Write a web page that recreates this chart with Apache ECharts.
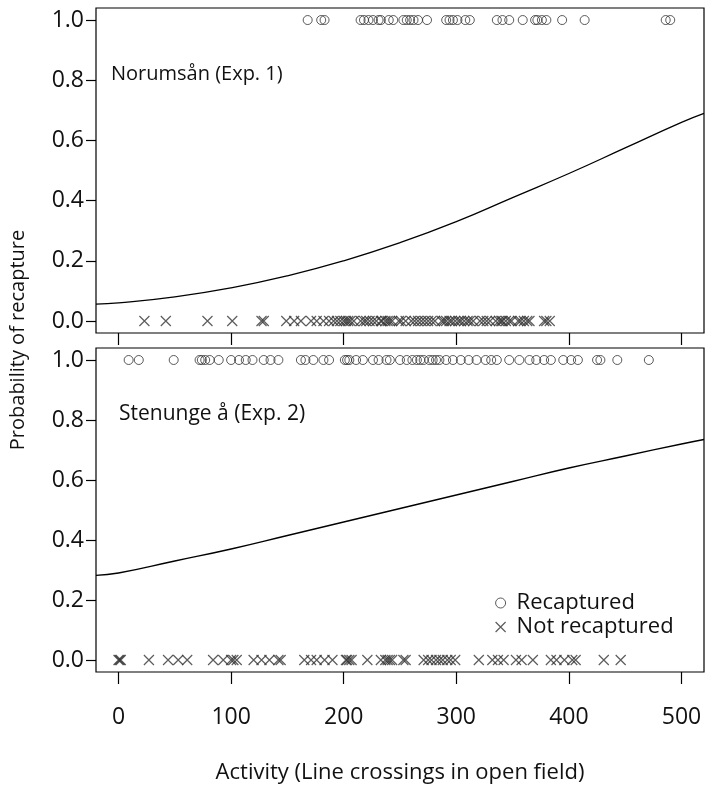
<!DOCTYPE html>
<html><head><meta charset="utf-8">
<script src="https://cdn.jsdelivr.net/npm/echarts@6/dist/echarts.min.js"></script>
<style>html,body{margin:0;padding:0;background:#fff}#c{width:705px;height:785px}</style>
</head><body><div id="c"></div>
<script>
// ---- data ----
const xTicks = [0, 100, 200, 300, 400, 500];
const yTicks = [0.0, 0.2, 0.4, 0.6, 0.8, 1.0];
const panelLabels = ['Norumsån (Exp. 1)', 'Stenunge å (Exp. 2)'];
const legendNames = ['Recaptured', 'Not recaptured'];
const xTitle = 'Activity (Line crossings in open field)';
const yTitle = 'Probability of recapture';

// Exp. 1 (Norumsån)
const topRecaptured = [168, 180, 183, 215, 218, 222, 226, 231, 233, 240, 244, 253, 256, 259, 262, 266, 274,
  291, 294, 297, 301, 308, 312, 336, 341, 347, 359, 370, 372, 376, 380, 394, 414, 486, 490];
const topNotRecaptured = [23, 42, 79, 101, 127, 129, 149, 156, 162, 171, 176, 182, 187,
  191, 194, 197, 200, 202, 204, 206, 209, 215, 218, 220, 223, 226, 229, 233, 234, 237, 239, 241, 243,
  249, 251, 255, 260, 263, 266, 269, 272, 275, 278, 281, 287, 289, 291, 294, 296, 299, 302, 304, 307,
  310, 312, 315, 321, 324, 327, 330, 335, 338, 340, 341, 344, 347, 349, 355, 357, 360, 363, 365,
  378, 380, 383];
// Exp. 2 (Stenunge å)
const bottomRecaptured = [9, 18, 49, 72, 74, 77, 81, 89, 100, 107, 113, 119, 129, 135, 142, 162, 166,
  173, 182, 187, 201, 203, 205, 211, 217, 226, 231, 238, 241, 250, 256, 261, 265, 268, 271, 276, 279,
  282, 285, 291, 297, 304, 311, 318, 326, 331, 336, 347, 356, 365, 371, 378, 384, 395, 402, 408, 425,
  428, 443, 471];
const bottomNotRecaptured = [0, 1, 2, 27, 44, 53, 61, 84, 93, 100, 102, 105, 120, 127, 134, 142, 144,
  165, 171, 176, 183, 190, 202, 203, 205, 207, 221, 233, 237, 239, 241, 243, 253, 255,
  271, 275, 278, 282, 285, 288, 292, 295, 299, 320, 332, 337, 342, 353, 358, 368, 384, 389, 396,
  403, 406, 431, 446];

// fitted curves read at these activity values
const curveX = [-20, 0, 50, 100, 150, 200, 250, 300, 350, 400, 450, 500, 520];
const topCurve = [0.056, 0.06, 0.08, 0.11, 0.15, 0.20, 0.26, 0.33, 0.41, 0.49, 0.575, 0.66, 0.69];
const bottomCurve = [0.282, 0.29, 0.33, 0.37, 0.415, 0.46, 0.505, 0.55, 0.595, 0.64, 0.68, 0.72, 0.735];

// ---- chart ----
const FONT = 'Open Sans';
const FS = 22;
const crossPath = 'path://M0,0L10,10M10,0L0,10';
const circleStyle = {color: 'rgba(0,0,0,0)', borderColor: '#333', borderWidth: 1};
const crossStyle = {color: 'rgba(0,0,0,0)', borderColor: '#333', borderWidth: 1.2};

function xAxisFor(gi, showLabels) {
  return {
    gridIndex: gi, type: 'value', min: -20, max: 520, interval: 100,
    axisLine: {show: false, onZero: false},
    axisTick: {show: true, inside: false, length: 12, lineStyle: {color: '#000', width: 1.2},
      customValues: xTicks},
    splitLine: {show: false},
    axisLabel: {show: showLabels, margin: 34, fontFamily: FONT, fontSize: 23, color: '#111',
      customValues: xTicks},
    name: showLabels ? xTitle : '', nameLocation: 'middle', nameGap: 90,
    nameTextStyle: {fontFamily: FONT, fontSize: FS, color: '#111'}
  };
}
function yAxisFor(gi) {
  return {
    gridIndex: gi, type: 'value', min: -0.04, max: 1.04,
    axisLine: {show: false, onZero: false},
    axisTick: {show: true, inside: false, length: 10, lineStyle: {color: '#000', width: 1.2}, customValues: yTicks},
    splitLine: {show: false},
    axisLabel: {margin: 12, fontFamily: FONT, fontSize: 23, color: '#111', customValues: yTicks,
      formatter: v => v.toFixed(1)}
  };
}

const chart = echarts.init(document.getElementById('c'), null, {renderer: 'canvas'});
chart.setOption({
  animation: false,
  backgroundColor: '#fff',
  grid: [
    {left: 96, top: 8, width: 608, height: 325, show: true, borderColor: '#000', borderWidth: 1.2, backgroundColor: 'transparent'},
    {left: 96, top: 348, width: 608, height: 325, show: true, borderColor: '#000', borderWidth: 1.2, backgroundColor: 'transparent'}
  ],
  xAxis: [xAxisFor(0, false), xAxisFor(1, true)],
  yAxis: [yAxisFor(0), yAxisFor(1)],
  title: [
    {text: panelLabels[0], left: 106, top: 59, textStyle: {fontFamily: FONT, fontSize: 20, fontWeight: 'normal', color: '#111'}},
    {text: panelLabels[1], left: 114, top: 399, textStyle: {fontFamily: FONT, fontSize: 21, fontWeight: 'normal', color: '#111'}}
  ],
  legend: {
    orient: 'vertical', left: 490, top: 587, itemGap: 2, itemWidth: 10, itemHeight: 10,
    textStyle: {fontFamily: FONT, fontSize: FS, color: '#111', padding: [0, 0, 0, 6]},
    data: [
      {name: legendNames[0], icon: 'circle', itemStyle: {color: 'rgba(0,0,0,0)', borderColor: '#333', borderWidth: 1}},
      {name: legendNames[1], icon: crossPath, itemStyle: {color: 'rgba(0,0,0,0)', borderColor: '#333', borderWidth: 1.2}}
    ]
  },
  graphic: [{
    type: 'text', x: 18, y: 340, rotation: Math.PI / 2,
    style: {text: yTitle, fontFamily: FONT, fontSize: 20, fill: '#111', align: 'center', verticalAlign: 'middle'}
  }],
  series: [
    {name: legendNames[0], type: 'scatter', xAxisIndex: 0, yAxisIndex: 0, symbol: 'circle', symbolSize: 9,
      itemStyle: circleStyle, data: topRecaptured.map(v => [v, 1])},
    {name: legendNames[1], type: 'scatter', xAxisIndex: 0, yAxisIndex: 0, symbol: crossPath, symbolSize: 10,
      itemStyle: crossStyle, data: topNotRecaptured.map(v => [v, 0])},
    {name: 'fit1', type: 'line', xAxisIndex: 0, yAxisIndex: 0, smooth: true, showSymbol: false,
      lineStyle: {color: '#000', width: 1.3}, data: curveX.map((x, i) => [x, topCurve[i]])},
    {name: legendNames[0], type: 'scatter', xAxisIndex: 1, yAxisIndex: 1, symbol: 'circle', symbolSize: 9,
      itemStyle: circleStyle, data: bottomRecaptured.map(v => [v, 1])},
    {name: legendNames[1], type: 'scatter', xAxisIndex: 1, yAxisIndex: 1, symbol: crossPath, symbolSize: 10,
      itemStyle: crossStyle, data: bottomNotRecaptured.map(v => [v, 0])},
    {name: 'fit2', type: 'line', xAxisIndex: 1, yAxisIndex: 1, smooth: true, showSymbol: false,
      lineStyle: {color: '#000', width: 1.3}, data: curveX.map((x, i) => [x, bottomCurve[i]])}
  ]
});
</script></body></html>
